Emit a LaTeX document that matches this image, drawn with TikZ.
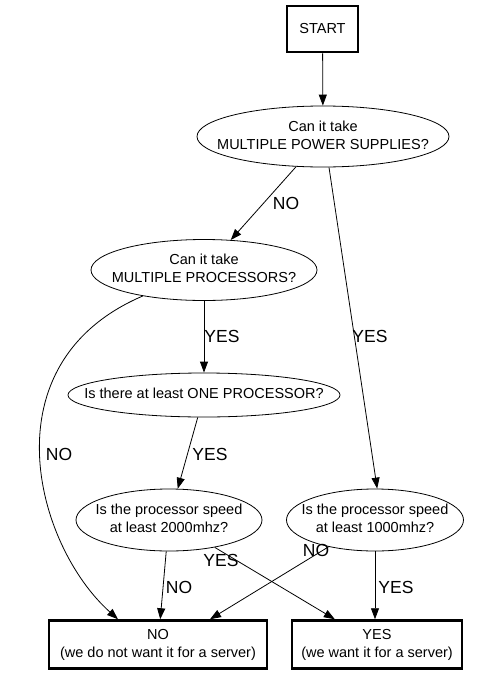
\documentclass[tikz,border=0pt]{standalone}
\usepackage{fontspec}
\setmainfont{Liberation Sans}
\usetikzlibrary{arrows.meta, shapes.geometric}
% keep the text from widening the ellipse
\newcommand{\qtext}[1]{\makebox[0pt]{\begin{tabular}{@{}c@{}}#1\end{tabular}}}

\begin{document}
\begin{tikzpicture}[x=1pt, y=-1pt, >={Triangle[length=11pt,width=8pt]},
        every node/.style={font=\fontsize{14.5}{18}\selectfont, align=center},
        ask/.style={draw, ellipse, line width=0.8pt, inner sep=0pt},
        endbox/.style={draw, line width=2.5pt, inner sep=0pt},
        lbl/.style={font=\fontsize{17.5}{20}\selectfont, inner sep=0pt},
        flow/.style={->, line width=0.8pt}]
      \useasboundingbox (0,0) rectangle (477,675);
      \node[endbox, minimum width=71pt, minimum height=46pt] (start) at (322.5,29) {START};
      \node[ask, minimum width=252pt, minimum height=61pt] (power) at (323,136.5) {\qtext{Can it take\\MULTIPLE POWER SUPPLIES?}};
      \node[ask, minimum width=226pt, minimum height=61pt] (multi) at (204,270) {\qtext{Can it take\\MULTIPLE PROCESSORS?}};
      \node[ask, minimum width=272pt, minimum height=44pt] (one) at (204,395) {\qtext{Is there at least ONE PROCESSOR?}};
      \node[ask, minimum width=186pt, minimum height=62pt] (fast) at (169,520) {\qtext{Is the processor speed\\at least 2000mhz?}};
      \node[ask, minimum width=177pt, minimum height=62pt] (slow) at (375,520) {\qtext{Is the processor speed\\at least 1000mhz?}};
      \node[endbox, minimum width=218pt, minimum height=48pt] (no) at (158,644.5) {NO\\(we do not want it for a server)};
      \node[endbox, minimum width=170pt, minimum height=48pt] (yes) at (377,644.5) {YES\\(we want it for a server)};
      \draw[flow] (start) -- (power);
      \draw[flow] (power) -- (multi);
      \draw[flow] (power.281) -- (slow.86);
      \draw[flow] (multi) -- (one);
      \draw[flow] (multi.203) .. controls (-14,363) and (35,545) .. ([xshift=-40pt]no.north);
      \draw[flow] (one) -- (fast);
      \draw[flow] (fast) -- (no);
      \draw[flow] (fast) -- (yes);
      \draw[flow] (slow.210) -- ([xshift=52pt]no.north);
      \draw[flow] (slow.south) -- (slow.south |- yes.north);
      \node[lbl] (pno) at (286,203) {NO};
      \node[lbl] (pyes) at (370,336) {YES};
      \node[lbl] (myes) at (222,336) {YES};
      \node[lbl] (mno) at (59,454) {NO};
      \node[lbl] (oyes) at (210,454) {YES};
      \node[lbl] (fyes) at (221,560) {YES};
      \node[lbl] (fno) at (179,587) {NO};
      \node[lbl] (sno) at (316,550) {NO};
      \node[lbl] (syes) at (396,587) {YES};
    \end{tikzpicture}
\end{document}
